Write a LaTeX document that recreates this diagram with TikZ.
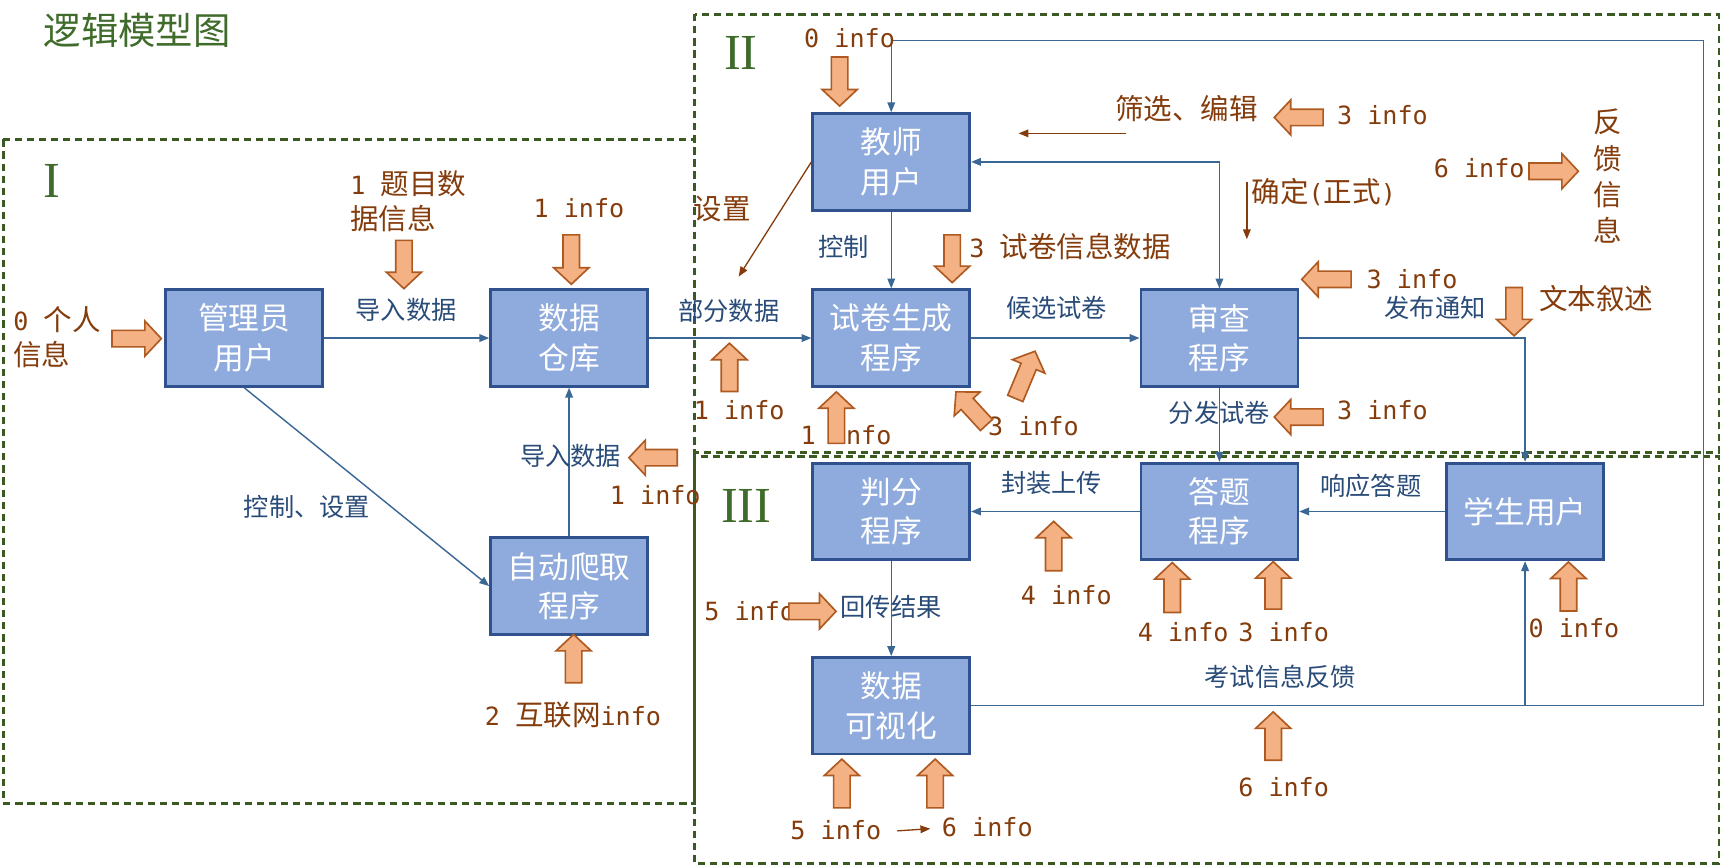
\documentclass[tikz,border=0pt]{standalone}
\usepackage{fontspec}
\setmainfont{Noto Sans CJK SC}
\newfontfamily\monof{DejaVu Sans Mono}[Scale=0.88]
\newfontfamily\romanf{Liberation Serif}
\usetikzlibrary{arrows.meta}
\definecolor{boxfill}{HTML}{8FAADC}
\definecolor{boxdraw}{HTML}{2F528F}
\definecolor{lineblue}{HTML}{3B6795}
\definecolor{labblue}{HTML}{294B78}
\definecolor{brownone}{HTML}{843C0C}
\definecolor{orangefill}{HTML}{F4B183}
\definecolor{orangedraw}{HTML}{AE5A21}
\definecolor{regiongreen}{HTML}{3A5A22}
\definecolor{titlegreen}{HTML}{3F6B2B}
\tikzset{
  pbox/.style={draw=boxdraw, fill=boxfill, line width=2.5pt, minimum width=143pt, minimum height=88pt,
    inner sep=0pt, text=white, align=center, font=\fontsize{28}{36}\selectfont},
  conn/.style={draw=lineblue, line width=1.3pt, -{Triangle[length=9pt,width=7pt]}},
  bothconn/.style={draw=lineblue, line width=1.3pt, {Triangle[length=9pt,width=7pt]}-{Triangle[length=9pt,width=7pt]}},
  plainconn/.style={draw=lineblue, line width=1.3pt},
  blab/.style={text=labblue, font=\fontsize{23}{28}\selectfont, inner sep=0pt},
  brn/.style={text=brownone, font=\fontsize{26}{32}\selectfont, inner sep=0pt},
  region/.style={draw=regiongreen, line width=2.4pt, dash pattern=on 6.5pt off 4.5pt},
  oarr/.style={fill=orangefill, draw=orangedraw, line width=1.5pt, line join=miter},
  brnarrow/.style={draw=brownone, line width=1.2pt, -{Triangle[length=9pt,width=7pt]}},
  roman/.style={text=titlegreen, font=\romanf\fontsize{46}{46}\selectfont, inner sep=0pt},
}
\newcommand\blockarr[4]{%
  \begin{scope}[shift={(#1,#2)},rotate=#3]
    \filldraw[oarr] (0,0) -- (-15,16) -- (-15,7.5) -- (-#4,7.5) -- (-#4,-7.5) -- (-15,-7.5) -- (-15,-16) -- cycle;
  \end{scope}}
\begin{document}
\begin{tikzpicture}[x=1pt,y=-1pt]
\useasboundingbox (0,0) rectangle (1568,789);

% regions
\draw[region] (3,127) rectangle (633,732);
\draw[region] (633,13) rectangle (1566,412);
\draw[region] (633,416) rectangle (1566,787);

% title and numerals
\node[text=titlegreen, font=\fontsize{34}{40}\selectfont, inner sep=0pt] (title) at (125,28) {逻辑模型图};
\node[roman] (rI) at (47,165) {I};
\node[roman] (rII) at (675,48) {II};
\node[roman] (rIII) at (680,461) {III};

% process boxes
\node[pbox] (mgr) at (222.5,308) {管理员\\用户};
\node[pbox] (data) at (518.5,308) {数据\\仓库};
\node[pbox] (crawl) at (518.5,534) {自动爬取\\程序};
\node[pbox] (teacher) at (812,147.5) {教师\\用户};
\node[pbox] (exam) at (812,308) {试卷生成\\程序};
\node[pbox] (review) at (1111,308) {审查\\程序};
\node[pbox] (judge) at (812,466) {判分\\程序};
\node[pbox] (answer) at (1111,466) {答题\\程序};
\node[pbox] (student) at (1389.5,466) {学生用户};
\node[pbox] (vis) at (812,643) {数据\\可视化};

% connectors
\draw[conn] (mgr) -- (data);
\draw[conn] (mgr.south) -- (crawl.west);
\draw[conn] (crawl) -- (data);
\draw[conn] (data) -- (exam);
\draw[conn] (teacher) -- (exam);
\draw[conn] (exam) -- (review);
\draw[bothconn] (teacher.east) -| (review.north);
\draw[conn] (review.east) -| (student.north);
\draw[conn] (review) -- (answer);
\draw[conn] (student) -- (answer);
\draw[conn] (answer) -- (judge);
\draw[conn] (judge) -- (vis);
\coordinate (fbR) at (1552,37);
\draw[conn] (vis.east) -- (fbR |- vis.east) -- (fbR) -- (teacher.north |- fbR) -- (teacher.north);
\draw[conn] (student.south |- vis.east) -- (student.south);

% brown thin arrows
\coordinate (setEnd) at (673,252);
\draw[brnarrow] (teacher.west) -- (setEnd);
\coordinate (edA) at (1025.5,121.5);
\coordinate (edB) at (928,121.5);
\draw[brnarrow] (edA) -- (edB);
\coordinate (okA) at (1136,166);
\coordinate (okB) at (1136,218);
\draw[brnarrow] (okA) -- (okB);
\coordinate (s1) at (817.5,757);
\coordinate (s2) at (847.6,755);
\draw[brnarrow] (s1) -- (s2);

% blue labels
\node[blab] (l1) at (370,282.5) {导入数据};
\node[blab] (l2) at (279.6,461.6) {控制、设置};
\node[blab] (l3) at (520,415) {导入数据};
\node[blab] (l4) at (664,283) {部分数据};
\node[blab] (l5) at (768.5,224.7) {控制};
\node[blab] (l6) at (962.7,280.8) {候选试卷};
\node[blab] (l7) at (1307.5,280.8) {发布通知};
\node[blab] (l8) at (1111,376.5) {分发试卷};
\node[blab] (l9) at (1249,442.8) {响应答题};
\node[blab] (l10) at (958,440) {封装上传};
\node[blab] (l11) at (812,552.7) {回传结果};
\node[blab] (l12) at (1166.6,616.5) {考试信息反馈};

% brown labels
\node[brn] (b1) at (658,190) {设置};
\node[brn] (b2) at (1081,99) {筛选、编辑};
\node[brn] (b3) at (1206,175) {确定{\monof(}正式{\monof)}};
\node[brn, align=center, font=\fontsize{26}{33}\selectfont] (b4) at (1465,160.5) {反\\馈\\信\\息};
\node[brn] (b5) at (1454.5,272.5) {文本叙述};

% info labels
\node[brn, align=left, anchor=west] (i1) at (12,307) {{\monof 0 }个人\\信息};
\node[brn, align=left, anchor=west] (i2) at (319,183) {{\monof 1 }题目数\\据信息};
\node[brn] (i3) at (527.5,190) {\monof 1 info};
\node[brn] (i4) at (597,451) {\monof 1 info};
\node[brn] (i5) at (522,651.5) {{\monof 2 }互联网{\monof info}};
\node[brn] (i6) at (774,35) {\monof 0 info};
\node[brn] (i7) at (673.5,373.6) {\monof 1 info};
\node[brn] (i8) at (770.8,396) {\monof 1 info};
\node[brn] (i9) at (941.5,388.7) {\monof 3 info};
\node[brn, anchor=west] (i10) at (883,225) {{\monof 3 }试卷信息数据};
\node[brn] (i11) at (1259.5,105) {\monof 3 info};
\node[brn] (i12) at (1347.7,153) {\monof 6 info};
\node[brn] (i13) at (1286.5,254.5) {\monof 3 info};
\node[brn] (i14) at (1259.5,373.5) {\monof 3 info};
\node[brn] (i15) at (971.5,542) {\monof 4 info};
\node[brn] (i16) at (1078,575.5) {\monof 4 info};
\node[brn] (i17) at (1169.5,575.5) {\monof 3 info};
\node[brn] (i18) at (1434,572) {\monof 0 info};
\node[brn] (i19) at (683,557) {\monof 5 info};
\node[brn] (i20) at (761.5,756) {\monof 5 info};
\node[brn] (i21) at (899.5,754) {\monof 6 info};
\node[brn] (i22) at (1169.5,716.7) {\monof 6 info};

% orange block arrows (tip x, tip y, screen angle, length)
\blockarr{147}{308.5}{0}{45}
\blockarr{368}{263}{-90}{44}
\blockarr{520.5}{259}{-90}{45}
\blockarr{573}{417}{180}{44}
\blockarr{522.6}{578}{90}{44}
\blockarr{664.6}{312.7}{90}{44}
\blockarr{762}{357}{90}{47}
\blockarr{871}{357}{132.6}{41}
\blockarr{943}{320}{67.3}{46.6}
\blockarr{867.5}{257.5}{-90}{43.5}
\blockarr{765}{96.6}{-90}{44.6}
\blockarr{1161}{107}{180}{44.5}
\blockarr{1438}{156}{0}{45}
\blockarr{1186}{254.5}{180}{45}
\blockarr{1379.5}{306}{-90}{44}
\blockarr{1161}{380}{180}{44.5}
\blockarr{960}{475}{90}{45}
\blockarr{1068}{512.6}{90}{45.4}
\blockarr{1160}{511.7}{90}{43.3}
\blockarr{1429}{512}{90}{44.7}
\blockarr{761.7}{557}{0}{43}
\blockarr{767}{691.6}{90}{44.4}
\blockarr{852}{691.6}{90}{44.4}
\blockarr{1160}{648.6}{90}{44}
\end{tikzpicture}
\end{document}
